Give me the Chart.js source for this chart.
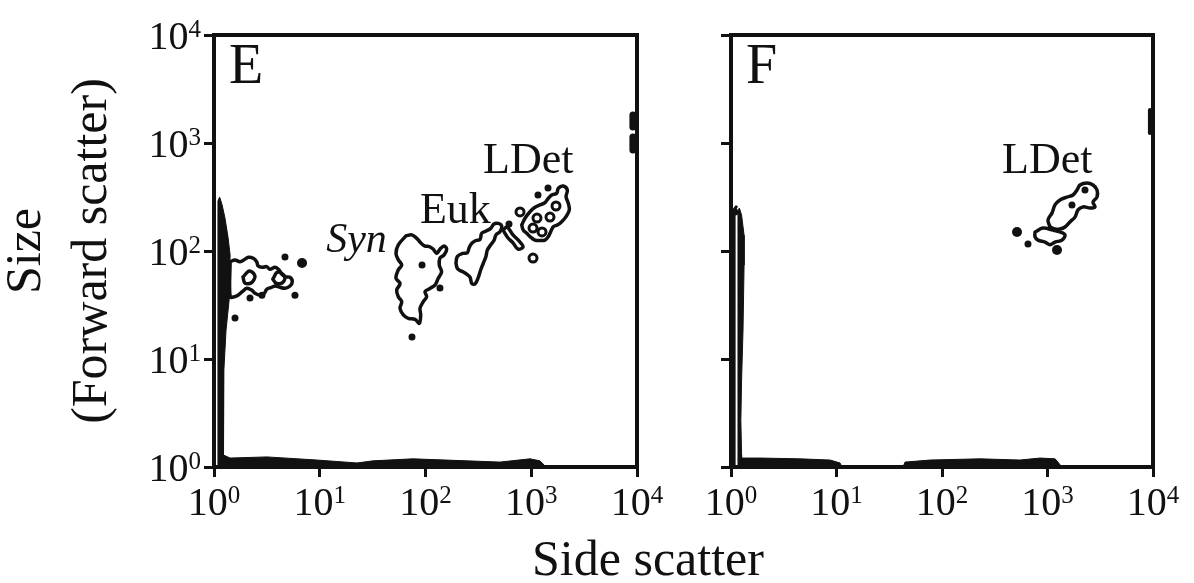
<!DOCTYPE html>
<html>
<head>
<meta charset="utf-8">
<script src="https://cdn.jsdelivr.net/npm/chart.js@4.4.1/dist/chart.umd.min.js"></script>
<style>
	body { margin: 0; background: #fff; width: 1194px; height: 583px; position: relative; overflow: hidden; }
	canvas { position: absolute; top: 0; }
	#panelE { left: 0; }
	#panelF { left: 670px; }
	#xTitle { position: absolute; left: 448px; width: 400px; top: 533px; text-align: center;
		font: 50px/50px "Liberation Serif", serif; color: #111; }
</style>
</head>
<body>
<canvas id="panelE" width="670" height="583"></canvas>
<canvas id="panelF" width="524" height="583"></canvas>
<div id="xTitle">Side scatter</div>
<script>
// tick values (decades) on both log axes
const decades = [1, 10, 100, 1000, 10000];
const exponents = ['0', '1', '2', '3', '4'];

// ---- panel E : [side scatter, forward scatter] ----
const bandE = [[1.09,1],[1.09,290],[1.13,316],[1.19,270],[1.27,202],[1.36,132],[1.42,92],[1.39,35],[1.3,18.6],[1.24,7.9],[1.22,2.7],[1.24,1.29],[1.42,1.21],[3.17,1.24],[9.4,1.16],[22.5,1.09],[31.9,1.14],[76,1.19],[247,1.14],[506,1.11],[973,1.19],[1210,1.14],[1380,1]];
const blobE = [[1.42,79.6],[1.58,82.6],[1.76,79.6],[1.96,83.8],[2.11,87.4],[2.35,85.6],[2.53,79.6],[2.62,72.6],[2.86,70.6],[3.15,71.6],[3.38,67.7],[3.78,70.6],[4.12,66.7],[4.37,61.2],[4.69,57.8],[5.23,57.1],[5.5,52],[5.23,47.4],[4.69,45.2],[4.21,46.1],[3.78,47.4],[3.51,46.1],[3.15,44.2],[2.99,40.6],[2.72,39.1],[2.44,40.6],[2.27,43.5],[2.04,45.2],[1.85,42],[1.7,39.1],[1.56,37.7],[1.42,37.7]];
const blobHoleE1 = [[1.88,57.5],[2.16,65.3],[2.44,58.7],[2.24,50.5],[1.96,50.5]];
const blobHoleE2 = [[3.6,55],[4.0,63.9],[4.69,57.5],[4.4,50.5],[3.86,50.5]];
const synE = [[65.4,138],[55.3,114],[52.6,95],[55.3,83],[59.6,74],[55.3,67],[52.6,56],[57.4,50],[53.4,43.5],[55.3,37.7],[59.6,34],[57.4,29.5],[61.7,25.6],[68.8,23.8],[79.6,23.3],[87.4,21.4],[90.1,25.6],[88.7,29.5],[95.3,34],[102.6,37.7],[98.9,42],[110,45],[123,48.4],[132,56],[142,64],[135,74],[137,86],[150,92],[158.6,104],[150,111],[137,104],[127.6,95],[118.5,104],[108.6,110],[98.9,111],[90.1,119],[82.6,131],[74.1,141]];
const eukE = [[194,77],[200,89],[225,95],[249,96.5],[259,108],[274,118],[300,125],[328,128],[340,146],[379,154],[414,162],[444,178],[488,180],[526,170],[506,151],[464,141],[444,125],[414,114],[384,102],[373,89],[352,77],[333,67],[316,57],[294,49.5],[274,50],[264,57],[245,61],[228,64],[212,66],[200,69]];
const bridgeE = [[541,156],[590,167],[672,141],[783,121],[836,109],[750,104],[672,119],[603,132]];
const ldetE = [[813,174],[873,201],[973,231],[1085,254],[1210,267],[1349,280],[1450,308],[1561,330],[1741,342],[1803,381],[2011,400],[2193,367],[2133,318],[2240,277],[2290,240],[2133,208],[1941,187],[1763,174],[1617,168],[1528,151],[1450,136],[1349,126],[1210,125],[1085,126],[973,136],[906,146],[841,156]];
const ringsE = [[1039,163],[1264,150],[1133,202],[1504,206],[1714,261],[783,230],[1039,86]];
const dotsE = [[2.19,36.7],[2.84,39],[4.69,88],[5.83,39],[1.58,24],[92.7,74],[137,45.4],[74.5,16],[616,178],[1158,330],[1440,383]];
const bigDotsE = [[6.8,77.4]];
const edgeE1 = [[9150,1816],[9150,1406]];
const edgeE2 = [[9150,1136],[9150,861]];
const notesE = [
	{ text: 'Syn', x: 11.5, y: 98, italic: true },
	{ text: 'Euk', x: 88.7, y: 182 },
	{ text: 'LDet', x: 350, y: 527 }
];

// ---- panel F ----
const bandF = [[1.165,1],[1.165,235],[1.2,250],[1.26,215],[1.33,140],[1.33,74],[1.3,18.6],[1.26,6.4],[1.24,2.7],[1.26,1.29],[1.26,1]];
const bandEdgeF = [[1.07,1],[1.07,240],[1.12,256]];
const baseF1 = [[1.2,1],[1.2,1.21],[1.88,1.21],[4.5,1.19],[8.7,1.16],[10.8,1.09],[11.3,1]];
const baseF2 = [[42.7,1],[44.6,1.11],[77,1.16],[229,1.19],[549,1.16],[849,1.21],[1180,1.19],[1370,1]];
const ldetF = [[1056,167],[1011,194],[1104,225],[1178,267],[1313,297],[1531,316],[1745,330],[1905,367],[2033,408],[2368,426],[2700,408],[2946,367],[2946,316],[2700,284],[2820,256],[2529,250],[2170,256],[1946,240],[1823,206],[1633,186],[1465,167],[1313,160],[1178,160]];
const ldetLowF = [[762,150],[906,163],[1128,156],[1313,150],[1465,141],[1372,126],[1178,121],[1056,114],[947,121],[813,126],[762,135]];
const dotsF = [[653,116],[2266,367],[1706,267],[1.09,230]];
const bigDotsF = [[514,150],[1230,102]];
const edgeF = [[9350,2020],[9350,1240]];
const notesF = [{ text: 'LDet', x: 371, y: 527 }];

const ink = '#111';
const serif = '"Liberation Serif", serif';

const xy = pts => pts.map(([x, y]) => ({ x, y }));
const trace = (pts, extra) => Object.assign({
	data: xy(pts),
	showLine: true, borderColor: ink, borderWidth: 3.5, pointRadius: 0, tension: 0.35, fill: false,
	borderCapStyle: 'round', borderJoinStyle: 'round'
}, extra || {});
const contour = (pts, extra) => trace(pts.concat([pts[0]]), extra);
const filled = pts => contour(pts, { fill: 'shape', backgroundColor: ink, borderWidth: 1, tension: 0 });
const dots = (pts, r) => ({ data: xy(pts), showLine: false, pointRadius: r, backgroundColor: ink, borderWidth: 0 });
const rings = pts => ({ data: xy(pts), showLine: false, pointRadius: 4, backgroundColor: '#fff', borderColor: ink, borderWidth: 3 });

function drawPow(ctx, px, base, exp, align) {
	ctx.font = '40px ' + serif;
	const w1 = ctx.measureText('10').width;
	ctx.font = '25px ' + serif;
	const w2 = ctx.measureText(exp).width;
	const left = align === 'center' ? px - (w1 + w2) / 2 : px - w1 - w2;
	ctx.font = '40px ' + serif;
	ctx.fillText('10', left, base);
	ctx.font = '25px ' + serif;
	ctx.fillText(exp, left + w1, base - 12);
}

const frameAndText = {
	id: 'frameAndText',
	afterDraw(chart, args, opts) {
		const { ctx, chartArea: a } = chart;
		const x = chart.scales.x, y = chart.scales.y;
		ctx.save();
		ctx.strokeStyle = ink;
		ctx.lineWidth = 4;
		ctx.strokeRect(a.left, a.top, a.right - a.left, a.bottom - a.top);
		ctx.fillStyle = ink;
		ctx.textAlign = 'left';
		ctx.textBaseline = 'alphabetic';
		decades.forEach((v, i) => {
			drawPow(ctx, x.getPixelForValue(v), a.bottom + 48, exponents[i], 'center');
			if (opts.yLabels) drawPow(ctx, a.left - 13, y.getPixelForValue(v) + 14, exponents[i], 'right');
		});
		ctx.font = '56px ' + serif;
		ctx.fillText(opts.letter, a.left + 15, a.top + 48);
		opts.notes.forEach(n => {
			ctx.font = (n.italic ? 'italic 42px ' : '44px ') + serif;
			ctx.fillText(n.text, x.getPixelForValue(n.x), y.getPixelForValue(n.y));
		});
		ctx.restore();
	}
};

function panel(id, datasets, o) {
	const axisGrid = { display: true, drawOnChartArea: false, drawTicks: true, tickLength: 10, tickWidth: 3, tickColor: ink };
	return new Chart(document.getElementById(id), {
		type: 'scatter',
		data: { datasets },
		plugins: [frameAndText],
		options: {
			responsive: false,
			animation: false,
			devicePixelRatio: 1,
			layout: { padding: { left: 0, top: 35, right: o.right, bottom: 0 } },
			scales: {
				x: {
					type: 'logarithmic', min: 1, max: 10000,
					grid: axisGrid, border: { display: false },
					ticks: { display: false },
					afterBuildTicks: s => { s.ticks = decades.map(value => ({ value })); },
					afterFit: s => { s.height = 116; }
				},
				y: {
					type: 'logarithmic', min: 1, max: 10000,
					grid: axisGrid, border: { display: false },
					ticks: { display: false },
					title: {
						display: !!o.yTitle, text: o.yTitle || '', color: ink,
						font: { family: serif, size: 50, lineHeight: 1.32 }, padding: { top: -6, bottom: 0 }
					},
					afterBuildTicks: s => { s.ticks = decades.map(value => ({ value })); },
					afterFit: s => { s.width = o.left; }
				}
			},
			plugins: {
				legend: { display: false },
				tooltip: { enabled: false },
				frameAndText: { letter: o.letter, yLabels: o.yLabels, notes: o.notes }
			}
		}
	});
}

panel('panelE', [
	filled(bandE),
	contour(blobE), contour(blobHoleE1), contour(blobHoleE2),
	contour(synE), contour(eukE), contour(bridgeE), contour(ldetE),
	rings(ringsE), dots(dotsE, 3.5), dots(bigDotsE, 5),
	trace(edgeE1, { borderWidth: 7, tension: 0 }), trace(edgeE2, { borderWidth: 7, tension: 0 })
], { left: 214, right: 33, letter: 'E', yLabels: true, notes: notesE, yTitle: ['Size', '(Forward scatter)'] });

panel('panelF', [
	filled(bandF), trace(bandEdgeF, { borderWidth: 3, tension: 0 }), filled(baseF1), filled(baseF2),
	contour(ldetF), contour(ldetLowF),
	dots(dotsF, 3.5), dots(bigDotsF, 5), trace(edgeF, { borderWidth: 4, tension: 0 })
], { left: 61, right: 41, letter: 'F', yLabels: false, notes: notesF });
</script>
</body>
</html>
